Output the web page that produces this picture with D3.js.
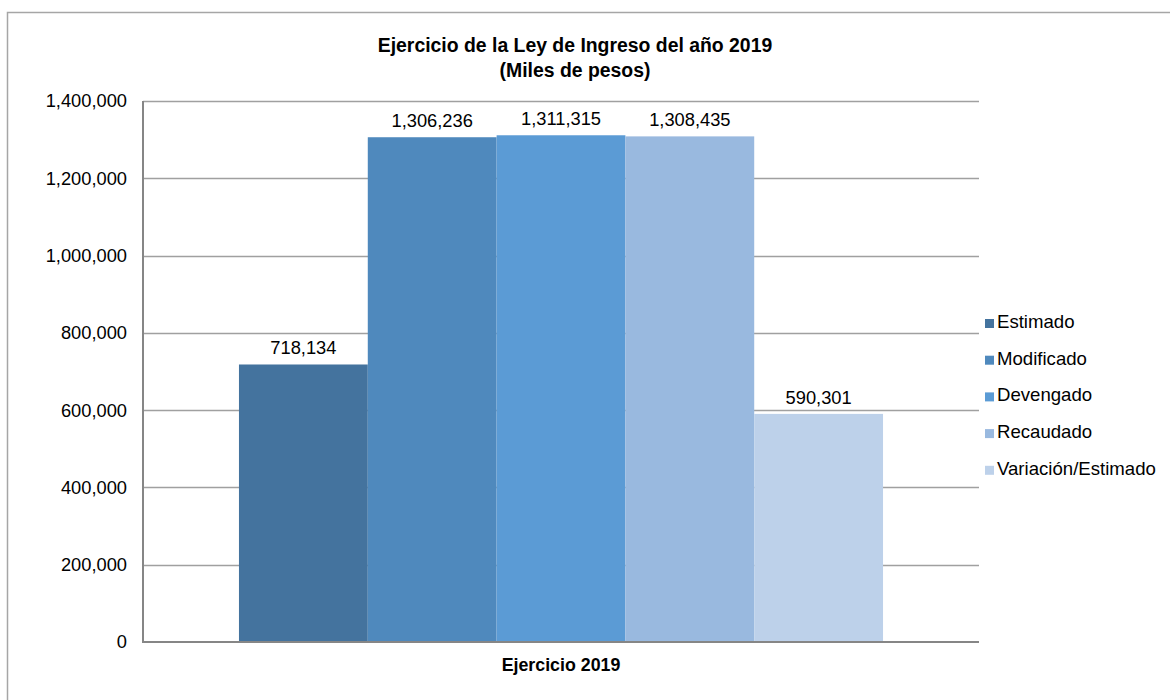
<!DOCTYPE html>
<html><head><meta charset="utf-8">
<script src="https://cdn.jsdelivr.net/npm/d3@7"></script>
<style>body{margin:0;background:#fff;} svg{display:block;font-family:"Liberation Sans",Arial,sans-serif;}</style>
</head><body>
<svg id="c" width="1170" height="700"></svg>
<script>
const seriesNames = ["Estimado","Modificado","Devengado","Recaudado","Variación/Estimado"];
const seriesValues = [718134,1306236,1311315,1308435,590301];
const seriesColors = ["#44739e","#4f89bd","#5b9bd5","#99b9df","#bdd1ea"];
const category = "Ejercicio 2019";
const yTicks = [0,200000,400000,600000,800000,1000000,1200000,1400000];
const titleLines = ["Ejercicio de la Ley de Ingreso del año 2019","(Miles de pesos)"];

const svg = d3.select("#c");
const fmt = d3.format(",");
const L=143, R=979, T=101, B=642;
const FS = 18.3;

// outer border
svg.append("rect").attr("x",7.5).attr("y",12.5).attr("width",1200).attr("height",800)
  .attr("fill","none").attr("stroke","#a6a6a6").attr("stroke-width",1.5);

const y = d3.scaleLinear().domain([0,1400000]).range([B,T]);
const x0 = d3.scaleBand().domain([category]).range([L,R]).paddingInner(0).paddingOuter(0.149);
const x1 = d3.scaleBand().domain(seriesNames).range([0,x0.bandwidth()]);

// gridlines
svg.append("g").selectAll("line").data(yTicks.filter(d=>d>0)).join("line")
  .attr("x1",L).attr("x2",R).attr("y1",d=>Math.round(y(d))+0.5).attr("y2",d=>Math.round(y(d))+0.5)
  .attr("stroke","#a0a0a0").attr("stroke-width",1.3);

// y axis labels
const yAxis = d3.axisLeft(y).tickValues(yTicks).tickFormat(fmt).tickSize(0).tickPadding(16);
const ga = svg.append("g").attr("transform",`translate(${L},0)`).call(yAxis);
ga.select(".domain").remove();
ga.selectAll("text").attr("font-size",FS).attr("fill","#000").attr("font-family","Liberation Sans, Arial, sans-serif");

// bars
const g = svg.append("g").attr("transform",`translate(${x0(category)},0)`);
g.selectAll("rect").data(seriesValues).join("rect")
  .attr("x",(d,i)=>x1(seriesNames[i])).attr("width",x1.bandwidth())
  .attr("y",d=>y(d)).attr("height",d=>B-y(d))
  .attr("fill",(d,i)=>seriesColors[i]);
g.selectAll("text").data(seriesValues).join("text")
  .attr("x",(d,i)=>x1(seriesNames[i])+x1.bandwidth()/2).attr("y",d=>y(d)-10)
  .attr("text-anchor","middle").attr("font-size",FS).attr("fill","#000").text(fmt);

// axis lines
svg.append("line").attr("x1",L).attr("x2",L).attr("y1",T).attr("y2",B+1).attr("stroke","#868686").attr("stroke-width",2);
svg.append("line").attr("x1",L).attr("x2",R).attr("y1",B).attr("y2",B).attr("stroke","#868686").attr("stroke-width",2);

// x label
svg.append("text").attr("x",x0(category)+x0.bandwidth()/2).attr("y",671)
  .attr("text-anchor","middle").attr("font-size",17.8).attr("font-weight","bold").text(category);

// title
svg.append("g").selectAll("text").data(titleLines).join("text")
  .attr("x",575).attr("y",(d,i)=>52+i*25).attr("text-anchor","middle")
  .attr("font-size",19.4).attr("font-weight","bold").text(d=>d);

// legend
const lg = svg.append("g").selectAll("g").data(seriesNames).join("g")
  .attr("transform",(d,i)=>`translate(985,${328+i*36.7})`);
lg.append("rect").attr("x",0).attr("y",-9).attr("width",9).attr("height",9).attr("fill",(d,i)=>seriesColors[i]);
lg.append("text").attr("x",12).attr("y",0).attr("font-size",18.6).attr("fill","#000").text(d=>d);
</script>
</body></html>
